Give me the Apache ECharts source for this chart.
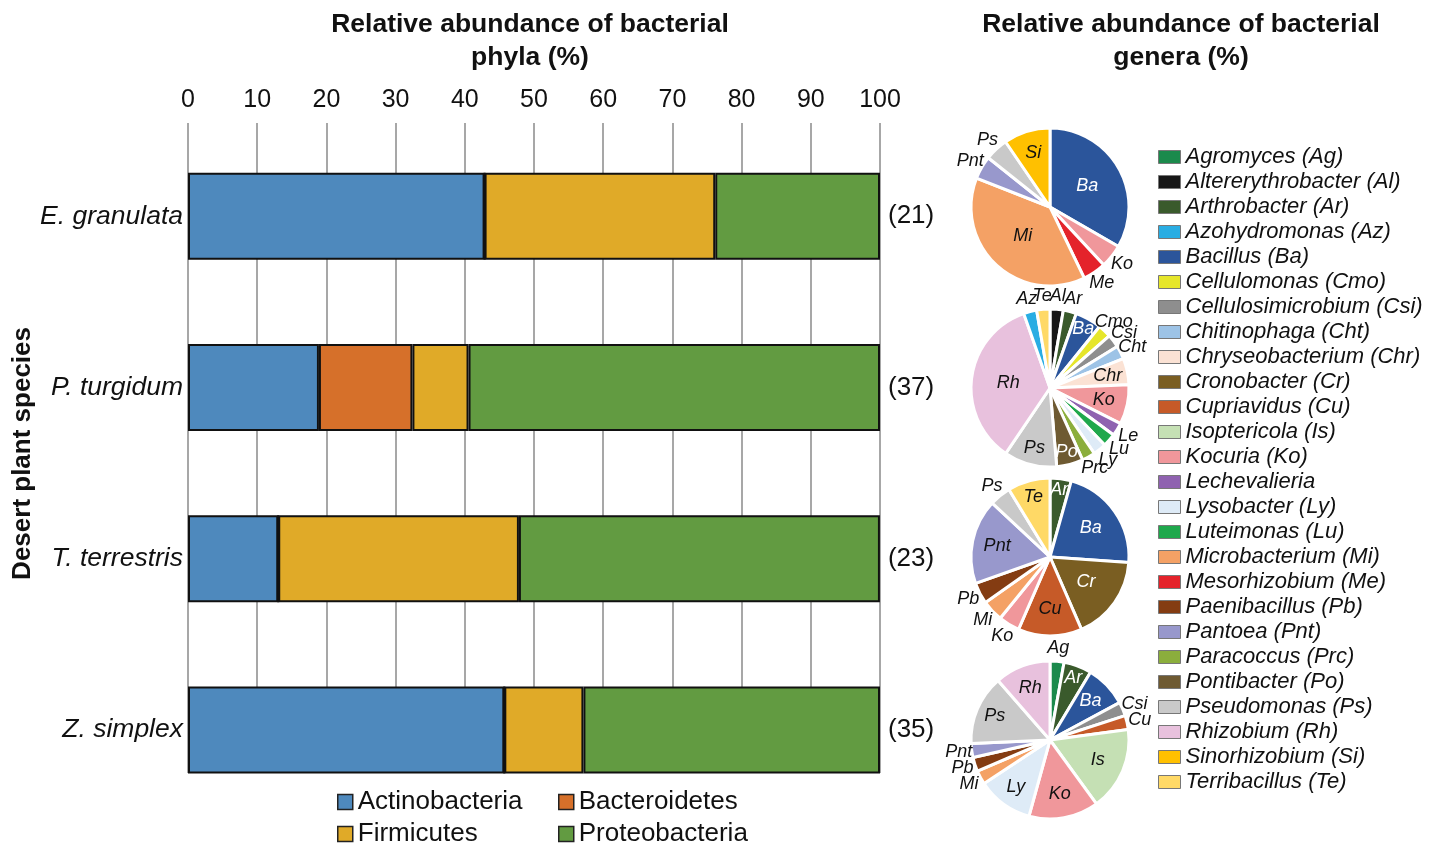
<!DOCTYPE html>
<html><head><meta charset="utf-8">
<script src="https://cdn.jsdelivr.net/npm/echarts@6/dist/echarts.min.js"></script>
<style>html,body{margin:0;padding:0;background:#fff}#c{width:1447px;height:843px}</style>
</head><body><div id="c"></div>
<script>
// ---- Bar chart data (percent of isolates per phylum) ----
const plants = ['E. granulata', 'P. turgidum', 'T. terrestris', 'Z. simplex'];
const isolateCounts = [21, 37, 23, 35];
const actinobacteria = [42.86, 18.92, 13.04, 45.71];
const bacteroidetes = [0, 13.51, 0, 0];
const firmicutes = [33.33, 8.11, 34.78, 11.43];
const proteobacteria = [23.81, 59.46, 52.17, 42.86];
const phylumTicks = [0, 10, 20, 30, 40, 50, 60, 70, 80, 90, 100];

// ---- Pie data (isolates per genus) ----
const egGenera = ['Ba', 'Ko', 'Me', 'Mi', 'Pnt', 'Ps', 'Si'];
const egCounts = [7, 1, 1, 8, 1, 1, 2];
const ptGenera = ['Al', 'Ar', 'Ba', 'Cmo', 'Csi', 'Cht', 'Chr', 'Ko', 'Le', 'Lu', 'Ly', 'Prc', 'Po', 'Ps', 'Rh', 'Az', 'Te'];
const ptCounts = [1, 1, 2, 1, 1, 1, 2, 3, 1, 1, 1, 1, 2, 4, 13, 1, 1];
const ttGenera = ['Ar', 'Ba', 'Cr', 'Cu', 'Ko', 'Mi', 'Pb', 'Pnt', 'Ps', 'Te'];
const ttCounts = [1, 5, 4, 3, 1, 1, 1, 4, 1, 2];
const zsGenera = ['Ag', 'Ar', 'Ba', 'Csi', 'Cu', 'Is', 'Ko', 'Ly', 'Mi', 'Pb', 'Pnt', 'Ps', 'Rh'];
const zsCounts = [1, 2, 3, 1, 1, 6, 5, 4, 1, 1, 1, 5, 4];

const legendGenera = ['Ag','Al','Ar','Az','Ba','Cmo','Csi','Cht','Chr','Cr','Cu','Is','Ko','Le','Ly','Lu','Mi','Me','Pb','Pnt','Prc','Po','Ps','Rh','Si','Te'];
const genusNames = {
  Ag:'Agromyces (Ag)', Al:'Altererythrobacter (Al)', Ar:'Arthrobacter (Ar)', Az:'Azohydromonas (Az)',
  Ba:'Bacillus (Ba)', Cmo:'Cellulomonas (Cmo)', Csi:'Cellulosimicrobium (Csi)', Cht:'Chitinophaga (Cht)',
  Chr:'Chryseobacterium (Chr)', Cr:'Cronobacter (Cr)', Cu:'Cupriavidus (Cu)', Is:'Isoptericola (Is)',
  Ko:'Kocuria (Ko)', Le:'Lechevalieria', Ly:'Lysobacter (Ly)', Lu:'Luteimonas (Lu)',
  Mi:'Microbacterium (Mi)', Me:'Mesorhizobium (Me)', Pb:'Paenibacillus (Pb)', Pnt:'Pantoea (Pnt)',
  Prc:'Paracoccus (Prc)', Po:'Pontibacter (Po)', Ps:'Pseudomonas (Ps)', Rh:'Rhizobium (Rh)',
  Si:'Sinorhizobium (Si)', Te:'Terribacillus (Te)'
};

// ---- Styles ----
const genusColors = {
  Ag:'#1b8a4c', Al:'#161616', Ar:'#3a5a2c', Az:'#29ade3', Ba:'#2b559b', Cmo:'#e6e62a', Csi:'#8e8e8e',
  Cht:'#9dc3e6', Chr:'#fbe2d4', Cr:'#7a5e22', Cu:'#c65a28', Is:'#c5e0b4', Ko:'#f0979b', Le:'#8f62b0',
  Ly:'#deebf7', Lu:'#1fa84c', Mi:'#f4a165', Me:'#e4232b', Pb:'#843c12', Pnt:'#9898cc', Prc:'#8bae3c',
  Po:'#6e5a32', Ps:'#c9c9c9', Rh:'#e8c1dd', Si:'#ffc000', Te:'#ffd966'
};
const whiteLabel = ['Ba', 'Ar', 'Cr', 'Po'];
// radial distance (px) of labels drawn inside slices
const insideLabelRadius = [
  { Ba: 43, Mi: 40, Si: 57 },
  { Rh: 42, Ps: 62, Po: 66, Ko: 55, Chr: 59, Ba: 68 },
  { Ar: 68, Te: 62, Ba: 50, Cr: 44, Cu: 52, Pnt: 54 },
  { Ar: 66, Ba: 56, Is: 52, Ko: 55, Ly: 58, Ps: 60, Rh: 56 }
];
const OUTSIDE_LABEL_RADIUS = 92;
const FONT = "'Liberation Sans', Arial, Helvetica, sans-serif";
const PIE_X = 1050, PIE_R = 79;

function pieData(genera, counts, inside) {
  return genera.map((g, i) => {
    const isIn = inside[g] !== undefined;
    return {
      name: g, value: counts[i],
      itemStyle: { color: genusColors[g] },
      label: {
        position: isIn ? 'inside' : 'outside',
        color: (isIn && whiteLabel.indexOf(g) >= 0) ? '#fff' : '#111'
      }
    };
  });
}
function pieSeries(genera, counts, inside, cy) {
  const total = counts.reduce((a, b) => a + b, 0);
  const mids = [];
  let cum = 0;
  counts.forEach(c => { mids.push((cum + c / 2) / total * Math.PI * 2); cum += c; });
  return {
    type: 'pie', radius: [0, PIE_R], center: [PIE_X, cy], startAngle: 90, clockwise: true,
    avoidLabelOverlap: false,
    data: pieData(genera, counts, inside),
    itemStyle: { borderColor: '#fff', borderWidth: 3 },
    label: { show: true, fontFamily: FONT, fontStyle: 'italic', fontSize: 18, formatter: '{b}' },
    labelLine: { show: false, length: 4, length2: 2 },
    labelLayout: function (p) {
      const g = genera[p.dataIndex];
      const d = inside[g] !== undefined ? inside[g] : OUTSIDE_LABEL_RADIUS;
      const a = mids[p.dataIndex];
      return { x: PIE_X + d * Math.sin(a), y: cy - d * Math.cos(a), align: 'center', verticalAlign: 'middle' };
    },
    emphasis: { disabled: true }
  };
}

const barBase = {
  type: 'bar', stack: 'total', barWidth: 87, xAxisIndex: 0, yAxisIndex: 0,
  emphasis: { disabled: true }
};
function barItem(name, data, color) {
  return Object.assign({}, barBase, {
    name, data,
    itemStyle: { color, borderColor: '#111', borderWidth: 2 }
  });
}

const chart = echarts.init(document.getElementById('c'));
const legendCommon = {
  orient: 'vertical', top: 784, height: 80,
  itemWidth: 15, itemHeight: 15, itemGap: 6, icon: 'rect',
  itemStyle: { borderColor: '#222', borderWidth: 1.5 },
  textStyle: { fontFamily: FONT, fontSize: 26, color: '#111', lineHeight: 26 }
};
const option = {
  animation: false,
  backgroundColor: '#fff',
  title: [
    { text: 'Relative abundance of bacterial\nphyla (%)', left: 525, top: 3, textAlign: 'center',
      textStyle: { fontFamily: FONT, fontWeight: 'bold', fontSize: 26.5, lineHeight: 33, color: '#111' } },
    { text: 'Relative abundance of bacterial\ngenera (%)', left: 1176, top: 3, textAlign: 'center',
      textStyle: { fontFamily: FONT, fontWeight: 'bold', fontSize: 26.5, lineHeight: 33, color: '#111' } }
  ],
  graphic: [{
    type: 'text', left: 10, top: 327, rotation: Math.PI / 2,
    style: { text: 'Desert plant species', font: "bold 26px 'Liberation Sans', Arial", fill: '#111' }
  }],
  grid: [
    { left: 188, width: 692, top: 130.5, height: 685 },
    { left: 188, width: 692, top: 123, height: 650 }
  ],
  xAxis: [
    { type: 'value', gridIndex: 0, min: 0, max: 100, show: false },
    { type: 'value', gridIndex: 1, min: 0, max: 100, interval: 10, position: 'top',
      axisLine: { show: false }, axisTick: { show: false },
      axisLabel: { fontFamily: FONT, fontSize: 25, color: '#111', margin: 10,
        formatter: v => (phylumTicks.indexOf(v) >= 0 ? String(v) : '') },
      splitLine: { show: true, lineStyle: { color: '#8a8a8a', width: 1.5 } } }
  ],
  yAxis: [
    { type: 'category', gridIndex: 0, data: plants, inverse: true,
      axisLine: { show: false }, axisTick: { show: false }, splitLine: { show: false },
      axisLabel: { fontFamily: FONT, fontSize: 26.5, fontStyle: 'italic', color: '#111', margin: 5 } },
    { type: 'value', gridIndex: 1, show: false, min: 0, max: 1 }
  ],
  legend: [
    Object.assign({}, legendCommon, { data: ['Actinobacteria', 'Firmicutes'], left: 332 }),
    Object.assign({}, legendCommon, { data: ['Bacteroidetes', 'Proteobacteria'], left: 553 }),
    { data: legendGenera, orient: 'vertical', left: 1153, top: 141, height: 700,
      itemWidth: 22, itemHeight: 13, itemGap: 3, icon: 'rect',
      itemStyle: { borderColor: '#777', borderWidth: 1 },
      formatter: n => genusNames[n],
      textStyle: { fontFamily: FONT, fontSize: 22, fontStyle: 'italic', color: '#111', lineHeight: 22 } }
  ],
  series: [
    barItem('Actinobacteria', actinobacteria, '#4e89bd'),
    barItem('Bacteroidetes', bacteroidetes, '#d6702a'),
    barItem('Firmicutes', firmicutes, '#e0aa28'),
    Object.assign(barItem('Proteobacteria', proteobacteria, '#629b41'), {
      label: { show: true, position: 'right', distance: 8, fontFamily: FONT, fontSize: 26, color: '#111',
        formatter: p => '(' + isolateCounts[p.dataIndex] + ')' }
    }),
    { type: 'scatter', xAxisIndex: 1, yAxisIndex: 1, data: [], silent: true },
    pieSeries(egGenera, egCounts, insideLabelRadius[0], 207),
    pieSeries(ptGenera, ptCounts, insideLabelRadius[1], 388),
    pieSeries(ttGenera, ttCounts, insideLabelRadius[2], 557),
    pieSeries(zsGenera, zsCounts, insideLabelRadius[3], 740)
  ]
};
chart.setOption(option);
</script></body></html>
